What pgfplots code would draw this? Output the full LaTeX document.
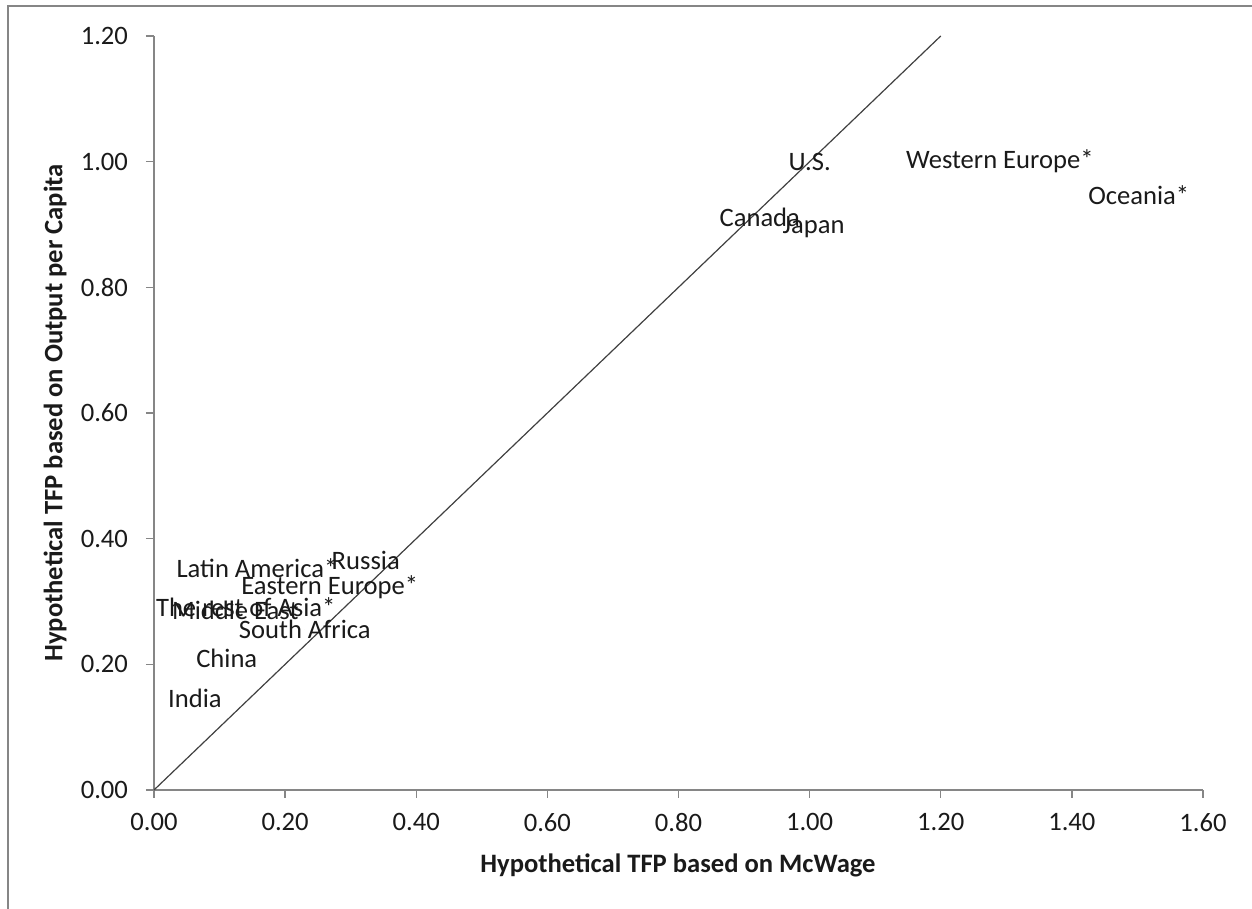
\documentclass[border=0pt]{standalone}
\usepackage{fontspec}
\setmainfont{Carlito}
\usepackage{pgfplots}
\pgfplotsset{compat=1.18}
\definecolor{axisgray}{HTML}{868686}
\definecolor{txt}{HTML}{1A1A1A}
\newcommand{\chartfont}{\fontsize{13.3}{15}\selectfont}
\begin{document}
\begin{tikzpicture}
% page size: 1252 x 909 px at 0.5pt per px
\useasboundingbox (-77pt,-59.5pt) rectangle (549pt,395pt);
\draw[axisgray, line width=1pt] (-73pt,-59.5pt) -- (-73pt,392pt) -- (549pt,392pt);
\begin{axis}[
    scale only axis,
    width=524.5pt,
    height=377pt,
    xmin=0, xmax=1.6,
    ymin=0, ymax=1.2,
    xtick={0,0.2,0.4,0.6,0.8,1.0,1.2,1.4,1.6},
    ytick={0,0.2,0.4,0.6,0.8,1.0,1.2},
    axis x line*=bottom,
    axis y line*=left,
    axis line style={axisgray, line width=0.7pt},
    tick style={axisgray, line width=0.7pt},
    tick align=outside,
    major tick length=4pt,
    clip=false,
    tick label style={font=\chartfont, text=txt},
    xticklabel style={yshift=-4pt},
    yticklabel style={xshift=-5.5pt},
    /pgf/number format/assume math mode=true,
    /pgf/number format/.cd, fixed, fixed zerofill, precision=2,
]
    % 45-degree reference line
    \addplot[color=black!75, line width=0.6pt] coordinates {(0,0) (1.2,1.2)};

    % region labels (labels centred on the data points, no markers)
    \addplot[only marks, mark=*, mark size=0pt, mark options={draw=none, fill=none},
        nodes near coords, point meta=explicit symbolic,
        every node near coord/.append style={anchor=center, inner sep=0pt,
            font=\chartfont, text=txt}]
    coordinates {
        (1.000,1.000) [U.S.]
        (1.290,1.000) [Western Europe*]
        (1.502,0.947) [Oceania*]
        (0.924,0.912) [Canada]
        (1.006,0.896) [Japan]
        (0.157,0.353) [Latin America*]
        (0.323,0.366) [Russia]
        (0.268,0.323) [Eastern Europe*]
        (0.140,0.291) [The rest of Asia*]
        (0.124,0.286) [Middle East]
        (0.230,0.256) [South Africa]
        (0.111,0.210) [China]
        (0.0625,0.146) [India]
    };
\end{axis}
\node[font=\bfseries\chartfont, text=txt] at (262pt,-37.5pt) {Hypothetical TFP based on McWage};
\node[font=\bfseries\chartfont, text=txt, rotate=90] at (-49.5pt,188.5pt) {Hypothetical TFP based on Output per Capita};
\end{tikzpicture}
\end{document}
